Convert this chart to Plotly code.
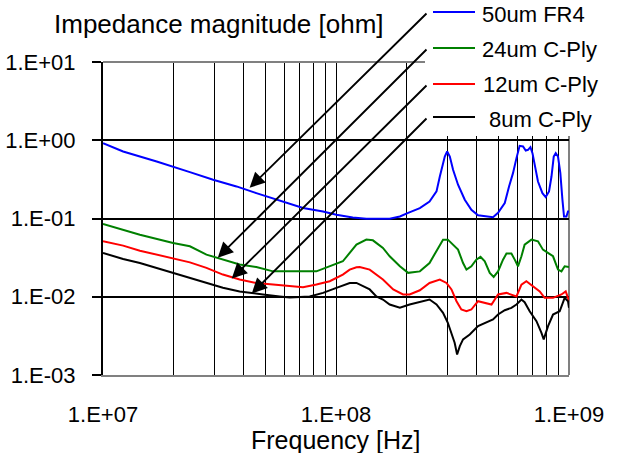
import math
import plotly.graph_objects as go

# ---------------- data ----------------
freq_fr4 = [1.0e7, 1.22e7, 1.70e7, 2.0e7, 2.36e7, 2.97e7, 3.74e7, 4.55e7, 5.55e7, 7.22e7,
            8.80e7, 1.004e8, 1.18e8, 1.35e8, 1.70e8, 1.88e8, 2.04e8, 2.29e8, 2.52e8, 2.70e8,
            2.79e8, 2.86e8, 2.93e8, 3.00e8, 3.08e8, 3.18e8, 3.34e8, 3.57e8, 3.81e8, 4.07e8,
            4.57e8, 4.72e8, 4.96e8, 5.30e8, 5.53e8, 5.75e8, 5.95e8, 6.14e8, 6.35e8, 6.52e8,
            6.67e8, 6.83e8, 6.97e8, 7.13e8, 7.36e8, 7.69e8, 7.94e8, 8.21e8, 8.41e8, 8.60e8,
            8.77e8, 8.97e8, 9.18e8, 9.37e8, 9.52e8, 9.75e8, 9.90e8, 1.0e9]
z_fr4 = [0.918, 0.718, 0.535, 0.462, 0.392, 0.313, 0.257, 0.211, 0.174, 0.136,
         0.123, 0.112, 0.103, 0.0994, 0.0994, 0.106, 0.118, 0.136, 0.165, 0.222,
         0.344, 0.462, 0.619, 0.718, 0.619, 0.419, 0.270, 0.174, 0.129, 0.110,
         0.106, 0.104, 0.118, 0.158, 0.257, 0.380, 0.591, 0.849, 0.832, 0.739,
         0.755, 0.817, 0.684, 0.462, 0.297, 0.211, 0.188, 0.222, 0.344, 0.619,
         0.684, 0.619, 0.380, 0.174, 0.106, 0.106, 0.123, 0.123]

freq_24 = [1.0e7, 1.22e7, 1.44e7, 2.0e7, 2.36e7, 2.78e7, 3.27e7, 3.86e7, 4.55e7, 5.37e7,
           8.24e7, 9.40e7, 1.07e8, 1.224e8, 1.35e8, 1.44e8, 1.59e8, 1.70e8, 1.88e8, 2.04e8,
           2.29e8, 2.52e8, 2.70e8, 2.88e8, 3.02e8, 3.18e8, 3.34e8, 3.51e8, 3.63e8, 3.81e8,
           4.00e8, 4.17e8, 4.35e8, 4.57e8, 4.75e8, 4.96e8, 5.21e8, 5.39e8, 5.66e8, 5.85e8,
           6.04e8, 6.25e8, 6.45e8, 6.90e8, 7.36e8, 7.73e8, 8.13e8, 8.54e8, 8.97e8, 9.28e8,
           9.58e8, 1.0e9]
z_24 = [0.0851, 0.0720, 0.0621, 0.0487, 0.0441, 0.0345, 0.0298, 0.0258, 0.0240, 0.0211,
        0.0211, 0.0245, 0.0284, 0.0463, 0.0537, 0.0526, 0.0421, 0.0329, 0.0245, 0.0202,
        0.0211, 0.0270, 0.0380, 0.0537, 0.0537, 0.0463, 0.0400, 0.0270, 0.0222, 0.0245,
        0.0298, 0.0323, 0.0284, 0.0202, 0.0179, 0.0211, 0.0298, 0.0356, 0.0356, 0.0298,
        0.0245, 0.0329, 0.0463, 0.0537, 0.0511, 0.0400, 0.0363, 0.0329, 0.0222, 0.0211,
        0.0245, 0.0240]

freq_12 = [1.0e7, 1.22e7, 1.44e7, 2.0e7, 2.36e7, 2.78e7, 3.27e7, 3.86e7, 4.55e7, 5.37e7,
           6.33e7, 7.22e7, 8.24e7, 9.40e7, 1.07e8, 1.145e8, 1.224e8, 1.264e8, 1.395e8, 1.59e8,
           1.76e8, 1.94e8, 2.07e8, 2.29e8, 2.52e8, 2.79e8, 2.98e8, 3.13e8, 3.29e8, 3.45e8,
           3.63e8, 3.81e8, 4.07e8, 4.35e8, 4.65e8, 4.96e8, 5.39e8, 5.95e8, 6.25e8, 6.56e8,
           6.97e8, 7.49e8, 7.86e8, 8.54e8, 9.28e8, 9.68e8, 9.90e8, 1.0e9]
z_12 = [0.0511, 0.0450, 0.0388, 0.0313, 0.0275, 0.0234, 0.0192, 0.0166, 0.0150, 0.0143,
        0.0136, 0.0132, 0.0143, 0.0158, 0.0192, 0.0222, 0.0238, 0.0240, 0.0222, 0.0166,
        0.0124, 0.0107, 0.0107, 0.0121, 0.0150, 0.0166, 0.0150, 0.0124, 0.00877, 0.00687,
        0.00653, 0.00687, 0.00877, 0.00836, 0.00796, 0.0107, 0.0112, 0.0101, 0.0143, 0.0158,
        0.0136, 0.0117, 0.00968, 0.00968, 0.0107, 0.0117, 0.00968, 0.00851]

freq_8 = [1.0e7, 1.22e7, 1.44e7, 2.0e7, 2.36e7, 2.78e7, 3.27e7, 3.86e7, 4.26e7, 4.86e7,
          5.73e7, 6.33e7, 7.71e7, 8.80e7, 1.004e8, 1.145e8, 1.224e8, 1.264e8, 1.395e8, 1.49e8,
          1.59e8, 1.70e8, 1.88e8, 2.07e8, 2.29e8, 2.52e8, 2.70e8, 2.88e8, 3.02e8, 3.13e8,
          3.23e8, 3.31e8, 3.40e8, 3.51e8, 3.75e8, 4.07e8, 4.42e8, 4.72e8, 4.96e8, 5.30e8,
          5.66e8, 5.95e8, 6.25e8, 6.45e8, 6.78e8, 7.25e8, 7.61e8, 7.79e8, 8.13e8, 8.54e8,
          9.12e8, 9.58e8, 9.90e8, 1.0e9]
z_8 = [0.0363, 0.0304, 0.0270, 0.0202, 0.0174, 0.0150, 0.0130, 0.0117, 0.0112, 0.0107,
       0.0101, 0.00977, 0.0101, 0.0112, 0.0130, 0.0150, 0.0150, 0.0143, 0.0124, 0.0101,
       0.00921, 0.00796, 0.00722, 0.00796, 0.00851, 0.00921, 0.00796, 0.00623, 0.00465, 0.00347,
       0.00258, 0.00183, 0.00234, 0.00285, 0.00330, 0.00421, 0.00465, 0.00512, 0.00593, 0.00673,
       0.00722, 0.00796, 0.00921, 0.00851, 0.00653, 0.00487, 0.00347, 0.00285, 0.00421, 0.00593,
       0.00653, 0.00968, 0.00877, 0.00722]

series_names = ["50um FR4", "24um C-Ply", "12um C-Ply", " 8um C-Ply"]
series_colors = ["#0000FF", "#008000", "#FF0000", "#000000"]

# where each legend arrow points (on its curve)
arrow_freq = [4.26e7, 3.11e7, 3.57e7, 4.35e7]
arrow_z = [0.247, 0.0316, 0.0171, 0.0110]

x_tick_vals = [1e7, 1e8, 1e9]
x_tick_text = ["1.E+07", "1.E+08", "1.E+09"]
y_tick_vals = [1e-3, 1e-2, 1e-1, 1e0, 1e1]
y_tick_text = ["1.E-03", "1.E-02", "1.E-01", "1.E+00", "1.E+01"]

# ---------------- layout geometry (pixels) ----------------
W, H = 619, 453
ML, MR, MT, MB = 103, 50, 62, 78
PW, PH = W - ML - MR, H - MT - MB


def pxx(x):
    return (x - ML) / PW


def pxy(y):
    return (H - MB - y) / PH


FONT = "Liberation Sans, Arial, sans-serif"

# grid positions at 1..9 x each decade
grid_vals = []
grid_text = []
for d in (7, 8):
    for k in range(1, 10):
        v = k * 10 ** d
        grid_vals.append(v)
        grid_text.append(x_tick_text[x_tick_vals.index(v)] if v in x_tick_vals else "")
grid_vals.append(1e9)
grid_text.append("1.E+09")

fig = go.Figure()
series = [(freq_fr4, z_fr4), (freq_24, z_24), (freq_12, z_12), (freq_8, z_8)]
for (fx, fz), name, col in zip(series, series_names, series_colors):
    fig.add_trace(go.Scatter(x=fx, y=fz, mode="lines", name=name.strip(),
                             line=dict(color=col, width=2), showlegend=False))

shapes = [
    # gray top and right frame
    dict(type="line", xref="paper", yref="paper", x0=0, x1=1, y0=1, y1=1,
         line=dict(color="#808080", width=2), layer="above"),
    dict(type="line", xref="paper", yref="paper", x0=1, x1=1, y0=0, y1=1,
         line=dict(color="#808080", width=2), layer="between"),
    # white legend box
    dict(type="rect", xref="paper", yref="paper", x0=pxx(425), x1=pxx(619),
         y0=pxy(136), y1=pxy(0), fillcolor="white", line=dict(width=0), layer="above"),
]
annotations = [
    dict(text="Impedance magnitude [ohm]", xref="paper", yref="paper",
         x=pxx(52), y=pxy(24), xanchor="left", yanchor="middle", showarrow=False,
         font=dict(family=FONT, size=26, color="black")),
    dict(text="Frequency [Hz]", xref="paper", yref="paper", borderpad=0,
         x=0.5, y=pxy(440), xanchor="center", yanchor="middle", showarrow=False,
         font=dict(family=FONT, size=25, color="black")),
]
leg_line_y = [12, 48, 84, 117]
leg_text_y = [15, 49, 85, 120]
leg_text_x = [480, 480, 481, 481]
for i, (name, col) in enumerate(zip(series_names, series_colors)):
    shapes.append(dict(type="line", xref="paper", yref="paper", x0=pxx(433), x1=pxx(475),
                       y0=pxy(leg_line_y[i]), y1=pxy(leg_line_y[i]),
                       line=dict(color=col, width=2), layer="above"))
    annotations.append(dict(text=name.replace(" ", "&nbsp;", 1) if name.startswith(" ") else name,
                            xref="paper", yref="paper", x=pxx(leg_text_x[i]),
                            y=pxy(leg_text_y[i]), xanchor="left", yanchor="middle",
                            showarrow=False, font=dict(family=FONT, size=22, color="black")))
    # arrow from legend entry to the curve
    tx = ML + (math.log10(arrow_freq[i]) - 7) / 2 * PW
    ty = MT + (1 - math.log10(arrow_z[i])) / 4 * PH
    annotations.append(dict(text="", x=math.log10(arrow_freq[i]), y=math.log10(arrow_z[i]),
                            xref="x", yref="y", showarrow=True, arrowhead=2,
                            arrowsize=1.6, arrowwidth=1.9, arrowcolor="black",
                            ax=428 - tx, ay=leg_line_y[i] - ty))

fig.update_layout(
    width=W, height=H,
    margin=dict(l=ML, r=MR, t=MT, b=MB, autoexpand=False),
    paper_bgcolor="white", plot_bgcolor="white",
    font=dict(family=FONT, size=22, color="black"),
    shapes=shapes, annotations=annotations,
    xaxis=dict(type="log", range=[7, 9], tickmode="array", tickvals=grid_vals,
               ticktext=grid_text, ticks="", showgrid=True, gridcolor="black",
               gridwidth=1, showline=True, linecolor="#808080", linewidth=2,
               ticklabelstandoff=19, tickfont=dict(size=22), automargin=False),
    yaxis=dict(type="log", range=[-3, 1], tickmode="array", tickvals=y_tick_vals,
               ticktext=y_tick_text, ticks="outside", ticklen=9, tickwidth=2,
               tickcolor="black", showgrid=True, gridcolor="black", gridwidth=2,
               showline=True, linecolor="black", linewidth=2, tickfont=dict(size=22),
               ticklabelstandoff=12, automargin=False),
)

fig.write_html("out.html")
